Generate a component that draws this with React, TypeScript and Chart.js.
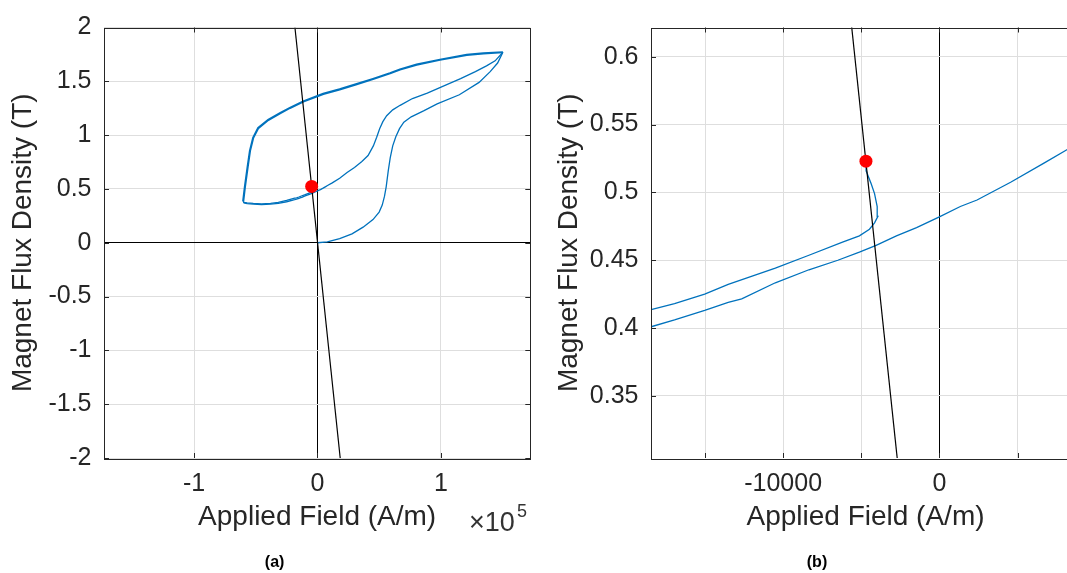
import React, { useEffect, useRef } from 'react';
import { Chart, registerables } from 'chart.js';

Chart.register(...registerables);

// ---------- data (H in A/m, B in T) ----------
const virginH = [0, 8000, 18000, 28000, 37000, 45000, 50000, 52500, 54300, 55700, 57400, 59000, 61000, 63500, 66500, 70000, 76000, 86000, 97000, 115000, 131000, 140000, 146000, 150300];
const virginB = [0, 0.008, 0.038, 0.082, 0.145, 0.215, 0.285, 0.35, 0.43, 0.52, 0.67, 0.79, 0.9, 0.985, 1.06, 1.12, 1.17, 1.225, 1.29, 1.375, 1.49, 1.59, 1.67, 1.77];

const upperH = [150300, 134500, 121000, 99300, 80400, 66900, 58800, 45000, 31800, 18000, 4700, -11500, -22300, -30000, -39900, -48000, -52100, -54700, -56600, -58800, -60200];
const upperB = [1.77, 1.76, 1.746, 1.70, 1.655, 1.61, 1.575, 1.522, 1.474, 1.425, 1.383, 1.313, 1.253, 1.205, 1.141, 1.066, 0.975, 0.854, 0.703, 0.52, 0.385];

const returnH = [-60200, -59500, -57000, -52000, -45300, -38000, -31800, -25000, -18450, -16950, -15020, -13515, -12650, -10500, -8350, -6500, -5120, -4050, -2750, -1460, 0, 1340, 2410, 4560, 6720, 8160, 12000, 18000, 24000, 30000, 36000, 41000, 45300, 48000, 50400, 53000, 56100, 61000, 67000, 77000, 89000, 102000, 116000, 128000, 137000, 144000, 150300];
const returnB = [0.385, 0.369, 0.364, 0.358, 0.355, 0.358, 0.366, 0.381, 0.401, 0.406, 0.413, 0.419, 0.4215, 0.4334, 0.443, 0.45, 0.456, 0.461, 0.468, 0.474, 0.482, 0.4896, 0.4944, 0.5075, 0.5218, 0.5314, 0.556, 0.60, 0.652, 0.70, 0.755, 0.81, 0.90, 0.98, 1.06, 1.125, 1.18, 1.235, 1.277, 1.34, 1.39, 1.455, 1.525, 1.59, 1.643, 1.69, 1.77];

const recoilH = [-60200, -59500, -57000, -52000, -45300, -38000, -31800, -25000, -18450, -16950, -15020, -13515, -10500, -8350, -6200, -5120, -4475, -4150, -3935, -3980, -4150, -4365, -4690, -4700];
const recoilB = [0.385, 0.374, 0.37, 0.365, 0.362, 0.366, 0.376, 0.393, 0.4136, 0.418, 0.425, 0.4322, 0.4442, 0.4537, 0.4633, 0.468, 0.4729, 0.4776, 0.4824, 0.4896, 0.4991, 0.5063, 0.5159, 0.523];

const loadLineH = [-18250, 18430];
const loadLineB = [2, -2];

const operatingH = [-4700];
const operatingB = [0.523];

// axis settings
const leftXRange = [-173000, 172500];
const leftYRange = [-2, 2];
const rightXRange = [-18457, 9000];
const rightYRange = [0.3043, 0.6215];
const leftXTicks = [-100000, 0, 100000];
const rightXTicks = [-15000, -10000, -5000, 0, 5000];
const rightXLabelled = [-10000, 0];

const FONT = "'Liberation Sans', Arial, Helvetica, sans-serif";
const AXIS_COLOR = '#262626';
const GRID_COLOR = '#dedede';
const BLUE = '#0072BD';

const toPoints = (h: number[], b: number[]) => h.map((x, i) => ({ x, y: b[i] }));

const boxPlugin = {
  id: 'matlabBox',
  afterDatasetsDraw(chart: any) {
    const { ctx, chartArea: a, scales } = chart;
    const TL = 5;
    ctx.save();
    ctx.strokeStyle = AXIS_COLOR;
    ctx.lineWidth = 1;
    ctx.beginPath();
    for (const t of scales.x.ticks) {
      const px = Math.round(scales.x.getPixelForValue(t.value)) + 0.5;
      ctx.moveTo(px, a.bottom);
      ctx.lineTo(px, a.bottom - TL);
      ctx.moveTo(px, a.top);
      ctx.lineTo(px, a.top + TL);
    }
    for (const t of scales.y.ticks) {
      const py = Math.round(scales.y.getPixelForValue(t.value)) + 0.5;
      ctx.moveTo(a.left, py);
      ctx.lineTo(a.left + TL, py);
      ctx.moveTo(a.right, py);
      ctx.lineTo(a.right - TL, py);
    }
    ctx.stroke();
    ctx.strokeRect(Math.round(a.left) + 0.5, Math.round(a.top) + 0.5, Math.round(a.right - a.left), Math.round(a.bottom - a.top));
    ctx.restore();
  },
};

function textPlugin(items: { text: string; x: number; y: number; font: string; color: string; align: CanvasTextAlign; baseline: CanvasTextBaseline }[]) {
  return {
    id: 'extraText',
    afterDraw(chart: any) {
      const ctx = chart.ctx;
      ctx.save();
      for (const it of items) {
        ctx.font = it.font;
        ctx.fillStyle = it.color;
        ctx.textAlign = it.align;
        ctx.textBaseline = it.baseline;
        ctx.fillText(it.text, it.x, it.y);
      }
      ctx.restore();
    },
  };
}

function datasets() {
  return [
    { data: toPoints(operatingH, operatingB), showLine: false, pointRadius: 6.5, pointBackgroundColor: '#ff0000', pointBorderWidth: 0 },
    { data: toPoints(loadLineH, loadLineB), showLine: true, borderColor: '#000000', borderWidth: 1.2, pointRadius: 0 },
    { data: toPoints(recoilH, recoilB), showLine: true, borderColor: BLUE, borderWidth: 1.3, pointRadius: 0 },
    { data: toPoints(returnH, returnB), showLine: true, borderColor: BLUE, borderWidth: 1.3, pointRadius: 0 },
    { data: toPoints(upperH, upperB), showLine: true, borderColor: BLUE, borderWidth: 2.2, pointRadius: 0 },
    { data: toPoints(virginH, virginB), showLine: true, borderColor: BLUE, borderWidth: 1.3, pointRadius: 0 },
  ];
}

const gridColor = (c: any) => (c.tick && c.tick.value === 0 ? '#000000' : GRID_COLOR);
const fmt = (v: number) => String(Math.round(v * 1000) / 1000);

function makeConfig(opts: any) {
  return {
    type: 'scatter',
    data: { datasets: datasets() },
    options: {
      responsive: false,
      animation: false,
      events: [],
      plugins: { legend: { display: false }, tooltip: { enabled: false } },
      layout: { padding: { left: 0, right: opts.padRight, top: 17, bottom: 0 } },
      scales: {
        x: {
          type: 'linear',
          position: 'bottom',
          min: opts.xRange[0],
          max: opts.xRange[1],
          afterBuildTicks: (s: any) => { s.ticks = opts.xTicks.map((v: number) => ({ value: v })); },
          afterFit: (s: any) => { s.height = 115; },
          grid: { color: gridColor, drawTicks: false, lineWidth: 1 },
          border: { display: false },
          ticks: {
            autoSkip: false,
            maxRotation: 0,
            padding: 11,
            color: AXIS_COLOR,
            font: { family: FONT, size: 25 },
            callback: opts.xLabel,
          },
          title: { display: true, text: 'Applied Field (A/m)', color: AXIS_COLOR, font: { family: FONT, size: 28 }, padding: { top: 0, bottom: 39 } },
        },
        y: {
          type: 'linear',
          position: 'left',
          min: opts.yRange[0],
          max: opts.yRange[1],
          afterFit: (s: any) => { s.width = opts.yWidth; },
          grid: { color: gridColor, drawTicks: false, lineWidth: 1 },
          border: { display: false },
          ticks: {
            stepSize: opts.yStep,
            includeBounds: false,
            autoSkip: false,
            padding: 12.5,
            color: AXIS_COLOR,
            font: { family: FONT, size: 25 },
            callback: (v: number) => fmt(v),
          },
          title: { display: true, text: 'Magnet Flux Density (T)', color: AXIS_COLOR, font: { family: FONT, size: 28 }, padding: { top: opts.yTitlePad, bottom: 0 } },
        },
      },
    },
    plugins: [boxPlugin, textPlugin(opts.texts)],
  };
}

function Panel({ left, width, canvasWidth, config }: { left: number; width: number; canvasWidth: number; config: () => any }) {
  const ref = useRef<HTMLCanvasElement>(null);
  useEffect(() => {
    const chart = new Chart(ref.current as HTMLCanvasElement, config());
    return () => chart.destroy();
  }, []);
  return (
    <div style={{ position: 'absolute', left, top: 0, width, height: 573, overflow: 'hidden' }}>
      <canvas ref={ref} width={canvasWidth} height={573} style={{ display: 'block', width: canvasWidth, height: 573 }} />
    </div>
  );
}

const leftConfig = () =>
  makeConfig({
    padRight: 9.7,
    xRange: leftXRange,
    yRange: leftYRange,
    xTicks: leftXTicks,
    yStep: 0.5,
    yWidth: 104,
    yTitlePad: 6.2,
    xLabel: (v: number) => fmt(v / 100000),
    texts: [
      { text: '\u00d710', x: 469, y: 531, font: `27px ${FONT}`, color: '#333333', align: 'left', baseline: 'alphabetic' },
      { text: '5', x: 517, y: 517, font: `18px ${FONT}`, color: '#333333', align: 'left', baseline: 'alphabetic' },
      { text: '(a)', x: 274.6, y: 563, font: `bold 16px ${FONT}`, color: '#000000', align: 'center', baseline: 'middle' },
    ],
  });

const rightConfig = () =>
  makeConfig({
    padRight: 20,
    xRange: rightXRange,
    yRange: rightYRange,
    xTicks: rightXTicks,
    yStep: 0.05,
    yWidth: 111,
    yTitlePad: 12.7,
    xLabel: (v: number) => (rightXLabelled.includes(Math.round(v)) ? String(Math.round(v)) : ''),
    texts: [
      { text: '(b)', x: 277, y: 563, font: `bold 16px ${FONT}`, color: '#000000', align: 'center', baseline: 'middle' },
    ],
  });

export default function App() {
  return (
    <div style={{ position: 'fixed', left: 0, top: 0, width: 1067, height: 573, background: '#ffffff', overflow: 'hidden' }}>
      <Panel left={0} width={540} canvasWidth={540} config={leftConfig} />
      <Panel left={540} width={527} canvasWidth={560} config={rightConfig} />
    </div>
  );
}
